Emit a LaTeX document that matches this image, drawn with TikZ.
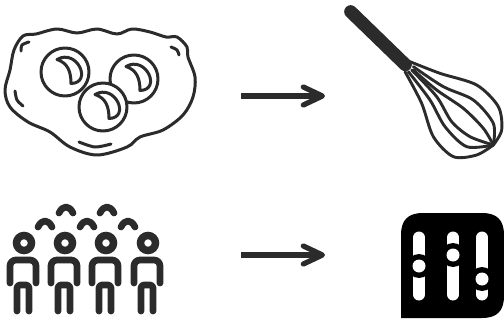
\documentclass[tikz,border=0pt]{standalone}
\usepackage{xcolor}
\usepackage{tikz}
\usetikzlibrary{
  arrows.meta,
  calc
}
\definecolor{inkdark}{HTML}{2B2B2B}
\tikzset{
  eggline/.style={
    draw=inkdark, line width=0.06cm, line cap=round, line join=round
  },
  wireline/.style={
    draw=inkdark, line width=0.058cm, line cap=round
  },
  personline/.style={
    draw=inkdark, line width=0.135cm, line cap=round, line join=round
  },
  flowarrow/.style={
    -{Straight Barb[length=3.8mm,width=3.6mm,round]}, draw=inkdark, line width=0.105cm
  },
}

\begin{document}
\begin{tikzpicture}[x=0.02cm,y=-0.02cm]
  \useasboundingbox (0,0) rectangle (504,321);

  %% Eggs: outline and small marks
  \draw[eggline] plot[smooth cycle,tension=0.55] coordinates {
    (36,34) (57,29) (77,33) (97,29) (117,34) (132,29) (150,32) (166,37)
    (177,37) (187,47) (188,57) (195,77) (193,97) (183,115) (163,130) (140,137)
    (127,147) (97,155) (70,147) (50,132) (28,122) (10,107) (5,90) (10,70)
    (14,50) (23,36)};
  \draw[eggline] plot[smooth] coordinates {(21,51) (22,45) (29,42)};
  \draw[eggline] plot[smooth] coordinates {(171,47) (177,50) (179,55)};
  \draw[eggline] plot[smooth] coordinates {(15,91) (17,100) (23,106)};
  \draw[eggline] plot[smooth] coordinates {(79,142) (95,147) (111,144)};

  %% Yolks, the lower one lies on top
  \foreach \x/\y in {65/72, 134/79, 103/107} {
    \draw[eggline,fill=white] (\x,\y) circle (24);
    \draw[eggline,fill=white] (\x-8,\y-12.5) .. controls (\x+12,\y-24) and (\x+28,\y+11) .. (\x+6,\y+11.5)
      .. controls (\x+6,\y) and (\x+3,\y-9) .. cycle;
  }

  %% Whisk
  \begin{scope}[shift={(330,0)},scale=1/3]
    \draw[draw=inkdark,line width=0.26cm,line cap=round] (62,35) -- (226,194);
    \draw[wireline] plot[smooth] coordinates {(240,185) (330,220) (440,255) (505,320) (515,390) (490,435)};
    \draw[wireline] plot[smooth] coordinates {(250,200) (340,260) (430,300) (490,370) (490,435)};
    \draw[wireline] plot[smooth] coordinates {(250,210) (320,270) (400,325) (460,385) (490,435)};
    \draw[wireline] plot[smooth] coordinates {(225,215) (275,310) (310,410) (370,470) (440,465) (490,435)};
    \draw[wireline] plot[smooth] coordinates {(235,215) (300,300) (345,380) (410,440) (490,435)};
    \draw[wireline] plot[smooth] coordinates {(245,210) (320,290) (365,365) (420,410) (490,435)};
  \end{scope}

  %% Arrows
  \coordinate (eggsout) at (241,96);
  \coordinate (whiskin) at (325,96);
  \coordinate (crowdout) at (241,255);
  \coordinate (mixerin) at (325,255);
  \draw[flowarrow] (eggsout) -- (whiskin);
  \draw[flowarrow] (crowdout) -- (mixerin);

  %% Crowd
  \foreach \x in {23,64,105,147} {
    \draw[draw=inkdark,line width=0.15cm] (\x+1,243) circle (7.5);
    \draw[personline,rounded corners=0.12cm] (\x-13,283) -- (\x-13,260) -- (\x+13,260) -- (\x+13,283);
    \draw[personline,rounded corners=0.06cm] (\x-6,311) -- (\x-6,285) -- (\x+6,285) -- (\x+6,311);
  }
  \foreach \x/\y in {45/227, 66/213, 87/227, 107/213, 128/227} {
    \draw[personline] (\x-7,\y) .. controls (\x-3,\y-8) and (\x+3,\y-8) .. (\x+7,\y);
  }

  %% Mixer
  \fill[black] (401,318) -- (401,235) .. controls (401,220) and (408,213) .. (423,213)
    -- (482,213) .. controls (497,213) and (504,220) .. (504,235)
    -- (504,296) .. controls (504,311) and (497,318) .. (482,318) -- cycle;
  \foreach \x/\k in {419/266, 453/255, 482/279} {
    \draw[white,line width=0.24cm,line cap=round] (\x,237.5) -- (\x,294.5);
    \fill[black] (\x,\k) circle (12);
    \fill[white] (\x,\k) circle (6.5);
  }
\end{tikzpicture}
\end{document}
